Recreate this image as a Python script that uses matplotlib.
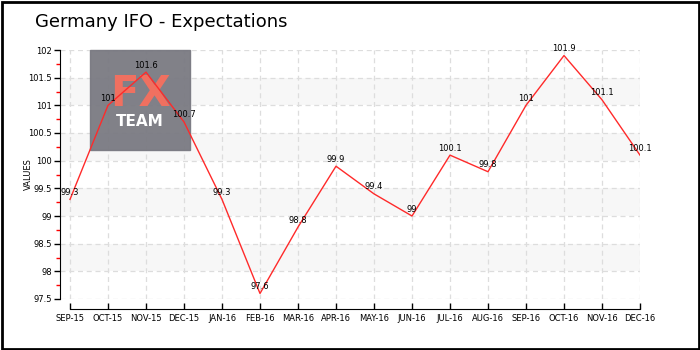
import matplotlib
matplotlib.use("Agg")
import matplotlib.pyplot as plt
from matplotlib.patches import Rectangle
from matplotlib.ticker import MultipleLocator

months = ["SEP-15", "OCT-15", "NOV-15", "DEC-15", "JAN-16", "FEB-16", "MAR-16", "APR-16",
          "MAY-16", "JUN-16", "JUL-16", "AUG-16", "SEP-16", "OCT-16", "NOV-16", "DEC-16"]
values = [99.3, 101, 101.6, 100.7, 99.3, 97.6, 98.8, 99.9, 99.4, 99.0, 100.1, 99.8, 101, 101.9, 101.1, 100.1]
labels = ["99.3", "101", "101.6", "100.7", "99.3", "97.6", "98.8", "99.9",
          "99.4", "99", "100.1", "99.8", "101", "101.9", "101.1", "100.1"]

fig = plt.figure(figsize=(7, 3.5), dpi=100)
ax = fig.add_axes([60 / 700, 51 / 350, 580 / 700, 249 / 350])

xs = list(range(len(months)))
ax.set_xlim(-10 / 38, len(months) - 1)
ax.set_ylim(97.5, 102)

# alternating bands
for lo in [98, 99, 100, 101]:
    ax.axhspan(lo, lo + 0.5, color="#f7f7f7", zorder=0, lw=0)

ax.grid(True, color="#dddddd", linestyle=(0, (4, 3)), lw=0.9, zorder=1)
ax.set_axisbelow(True)

# logo (under the line)
ax.add_patch(Rectangle((90 / 700, 1 - 150 / 350), 100 / 700, 100 / 350,
                       transform=fig.transFigure, color="#7a7a82", alpha=0.95,
                       zorder=2, clip_on=False))
ax.text(140 / 700, 1 - 94 / 350, "FX", color="#f07060", fontsize=30, fontweight="bold",
        ha="center", va="center", zorder=3, transform=fig.transFigure)
ax.text(140 / 700, 1 - 122 / 350, "TEAM", color="white", fontsize=11, fontweight="bold",
        ha="center", va="center", zorder=3, transform=fig.transFigure)

ax.plot(xs, values, color="#ff2a2a", lw=1, zorder=4)
for x, v, t in zip(xs, values, labels):
    ax.annotate(t, (x, v), xytext=(0, 5), textcoords="offset points",
                ha="center", va="center", fontsize=6, zorder=5)

for s in ["top", "right"]:
    ax.spines[s].set_visible(False)
ax.spines["left"].set_bounds(97.5, 102)
ax.spines["bottom"].set_position(("outward", 7))
ax.spines["bottom"].set_bounds(0, len(months) - 1)

ax.set_xticks(xs)
ax.set_xticklabels(months)
ax.yaxis.set_minor_locator(MultipleLocator(0.25))
ax.set_yticks([97.5 + 0.5 * i for i in range(10)])
ax.set_yticklabels(["%g" % (97.5 + 0.5 * i) for i in range(10)])
ax.tick_params(axis="y", which="major", direction="out", length=4, width=1, pad=2, labelsize=6)
ax.tick_params(axis="y", which="minor", direction="out", length=3, width=1, color="red")
ax.tick_params(axis="x", direction="in", length=4, width=1, pad=4, labelsize=6)
ax.set_ylabel("VALUES", fontsize=6)
ax.yaxis.set_label_coords(-27 / 580, 0.5)

fig.text(35 / 700, 1 - 22 / 350, "Germany IFO - Expectations", fontsize=13, va="center")

fig.patches.append(Rectangle((1.5 / 700, 1.5 / 350), 697 / 700, 346.5 / 350,
                             transform=fig.transFigure, fill=False, ec="black", lw=2))

fig.savefig("out.png", dpi=100)
